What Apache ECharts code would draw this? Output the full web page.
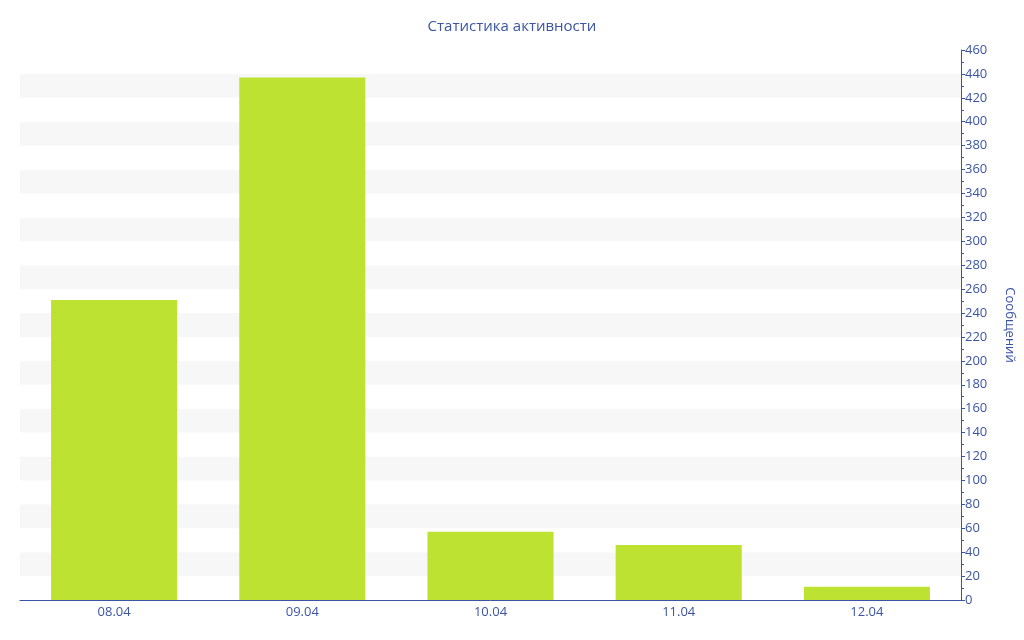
<!DOCTYPE html>
<html><head><meta charset="utf-8">
<script src="https://cdn.jsdelivr.net/npm/echarts@6/dist/echarts.min.js"></script>
<style>html,body{margin:0;padding:0;background:#fff}#c{width:1024px;height:640px}</style>
</head><body><div id="c"></div>
<script>
const categories = ['08.04','09.04','10.04','11.04','12.04'];
const messages = [251, 437, 57, 46, 11];
const titleText = 'Статистика активности';
const axisName = 'Сообщений';
const axisColor = '#3b54a4';
const chart = echarts.init(document.getElementById('c'));
chart.setOption({
  animation: false,
  textStyle: {fontFamily: 'Open Sans'},
  title: {text: titleText, left: 'center', top: 14, textStyle: {fontSize: 15, fontWeight: 'normal', color: axisColor, fontFamily: 'Open Sans'}},
  grid: {left: 20, right: 57, top: 50, bottom: 40},
  xAxis: {
    type: 'category', data: categories,
    axisLine: {lineStyle: {color: axisColor}},
    axisTick: {alignWithLabel: true, length: 4, lineStyle: {color: '#999'}},
    axisLabel: {color: axisColor, fontSize: 13, margin: 6}
  },
  yAxis: {
    type: 'value', position: 'right', min: 0, max: 460, interval: 20,
    name: axisName, nameLocation: 'middle', nameRotate: -90, nameGap: 42,
    nameTextStyle: {color: axisColor, fontSize: 13},
    axisLine: {show: true, lineStyle: {color: axisColor}},
    axisTick: {show: true, length: 4, lineStyle: {color: axisColor}},
    minorTick: {show: true, splitNumber: 2, length: 3, lineStyle: {color: axisColor}},
    axisLabel: {color: axisColor, fontSize: 13, margin: 4},
    splitLine: {show: false},
    splitArea: {show: true, areaStyle: {color: ['#ffffff', '#f7f7f7']}}
  },
  series: [{
    type: 'bar', data: messages, barCategoryGap: '33%',
    itemStyle: {color: '#bde232'}
  }]
});
</script></body></html>
